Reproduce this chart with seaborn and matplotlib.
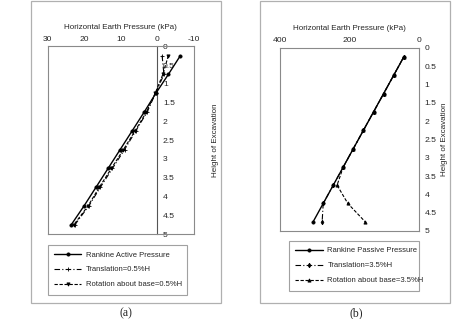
import matplotlib
matplotlib.use("Agg")
import matplotlib.pyplot as plt
from matplotlib.patches import Rectangle
import seaborn as sns

# depth of the readings (m)
depth = [0.25, 0.75, 1.25, 1.75, 2.25, 2.75, 3.25, 3.75, 4.25, 4.75]

# (a) active case, pressure in kPa
rankine_active = [-6.3, -3.0, 0.4, 3.6, 6.9, 10.2, 13.5, 16.8, 20.1, 23.6]
translation_a = [-1.3, -1.8, 0.5, 2.8, 5.9, 9.0, 12.3, 15.6, 18.8, 22.6]
rotation_a = [-3.0, -1.5, 0.6, 3.0, 6.1, 9.3, 12.6, 15.9, 19.0, 22.9]

# (b) passive case, pressure in kPa
rankine_passive = [44, 73, 102, 131, 160, 189, 218, 247, 276, 305]
translation_b = [44, 73, 102, 131, 160, 189, 218, 247, 276, 279]
rotation_b = [44, 73, 102, 131, 160, 189, 218, 236, 205, 155]

y_ticks = [0, 0.5, 1, 1.5, 2, 2.5, 3, 3.5, 4, 4.5, 5]
y_tick_labels = ["0", "0.5", "1", "1.5", "2", "2.5", "3", "3.5", "4", "4.5", "5"]
xticks_a = [30, 20, 10, 0, -10]
xticks_b = [400, 200, 0]

labels_a = ["Rankine Active Pressure", "Translation=0.5%H", "Rotation about base=0.5%H"]
labels_b = ["Rankine Passive Pressure", "Translation=3.5%H", "Rotation about base=3.5%H"]

sns.set_style("white")
plt.rcParams["font.family"] = ["Liberation Sans", "DejaVu Sans"]

fig = plt.figure(figsize=(4.74, 3.19), dpi=100)

FRAME = "#8a8a8a"
FS = 5.8

# outer grey boxes around each panel
for x0 in (0.0654, 0.5485):
    fig.patches.append(Rectangle((x0, 0.050), 0.400, 0.947, transform=fig.transFigure,
                                 fill=False, edgecolor="#b0b0b0", linewidth=0.9))


def draw_panel(ax, series, labels, markers, xlim, xticks):
    styles = ["-", (0, (5, 2, 1, 2)), (0, (3, 1.5))]
    widths = [1.0, 0.8, 0.8]
    for vals, lab, ls, lw, mk in zip(series, labels, styles, widths, markers):
        sns.lineplot(x=vals, y=depth, ax=ax, sort=False, estimator=None, color="black",
                     linestyle=ls, linewidth=lw, marker=mk, markersize=2.3,
                     markeredgecolor="black", markerfacecolor="black",
                     markeredgewidth=0.6, label=lab)
    ax.set_xlim(*xlim)
    ax.set_ylim(5, 0)
    ax.xaxis.tick_top()
    ax.xaxis.set_label_position("top")
    ax.set_xticks(xticks, labels=[str(t) for t in xticks])
    ax.tick_params(axis="x", length=0, pad=2.5, labelsize=FS + 0.3)
    ax.set_xlabel("Horizontal Earth Pressure (kPa)", fontsize=FS, labelpad=5)
    ax.set_ylabel("")
    for sp in ax.spines.values():
        sp.set_color(FRAME)
        sp.set_linewidth(0.8)
    ax.set_yticks([])


def add_legend(ax, x0, top, width):
    leg = ax.legend(loc="upper left", bbox_to_anchor=(x0, top - 0.3, width, 0.3), mode="expand",
                    fontsize=FS - 0.3, frameon=True, fancybox=False, edgecolor=FRAME,
                    handlelength=3.6, labelspacing=1.0, borderpad=0.8, handletextpad=0.6,
                    borderaxespad=0)
    leg.get_frame().set_linewidth(0.8)


# panel (a)
ax_a = fig.add_axes([0.101, 0.266, 0.308, 0.589])
draw_panel(ax_a, [rankine_active, translation_a, rotation_a], labels_a,
           ["o", "+", "v"], (30, -10), xticks_a)
sec = ax_a.secondary_yaxis(0.75)
sec.set_yticks(y_ticks, labels=y_tick_labels)
sec.tick_params(length=0, pad=4, labelsize=FS + 0.3)
sec.spines["right"].set_color("#555555")
sec.spines["right"].set_linewidth(0.8)
add_legend(ax_a, 0, -0.058, 0.952)

# panel (b)
ax_b = fig.add_axes([0.591, 0.276, 0.293, 0.574])
draw_panel(ax_b, [rankine_passive, translation_b, rotation_b], labels_b,
           ["o", "d", "^"], (400, 0), xticks_b)
ax_b.yaxis.tick_right()
ax_b.set_yticks(y_ticks, labels=y_tick_labels)
ax_b.tick_params(axis="y", length=0, pad=4, labelsize=FS + 0.3)
add_legend(ax_b, 0.065, -0.055, 0.935)

fig.text(0.4536, 0.561, "Height of Excavation", rotation=90, ha="center", va="center", fontsize=FS)
fig.text(0.937, 0.563, "Height of Excavation", rotation=90, ha="center", va="center", fontsize=FS)

fig.text(0.266, 0.019, "(a)", ha="center", va="center", fontsize=8.5, family="Liberation Serif")
fig.text(0.751, 0.019, "(b)", ha="center", va="center", fontsize=8.5, family="Liberation Serif")

fig.savefig("out.png", dpi=100)
